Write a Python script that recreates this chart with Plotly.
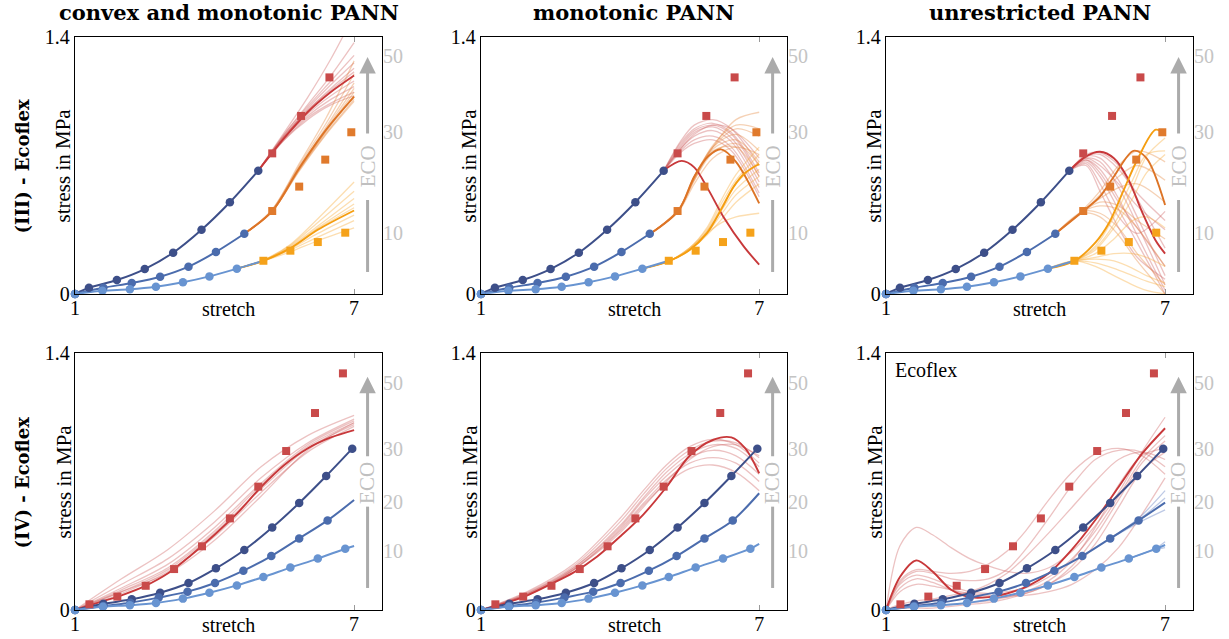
import plotly.graph_objects as go

W, H = 1229, 639

# ---------------- data: top row (III) ----------------
top_x_train50 = [1.0, 1.30, 1.90, 2.50, 3.11, 3.72, 4.33, 4.94]
top_y_train50 = [0.0, 0.034, 0.076, 0.136, 0.225, 0.350, 0.500, 0.672]
top_x_train30 = [1.0, 1.61, 2.22, 2.83, 3.44, 4.03, 4.64]
top_y_train30 = [0.0, 0.034, 0.060, 0.094, 0.149, 0.229, 0.328]
top_x_train10 = [1.0, 1.59, 2.18, 2.74, 3.32, 3.89, 4.48]
top_y_train10 = [0.0, 0.018, 0.026, 0.040, 0.064, 0.096, 0.138]
top_x_test50 = [5.24, 5.86, 6.47]
top_y_test50 = [0.766, 0.970, 1.180]
top_x_test30 = [5.24, 5.82, 6.38, 6.94]
top_y_test30 = [0.452, 0.585, 0.732, 0.881]
top_x_test10 = [5.05, 5.63, 6.22, 6.81]
top_y_test10 = [0.181, 0.236, 0.283, 0.334]

# ---------------- data: bottom row (IV) ----------------
bot_x_test50 = [1.31, 1.91, 2.52, 3.13, 3.73, 4.33, 4.94, 5.54, 6.16, 6.76]
bot_y_test50 = [0.031, 0.073, 0.132, 0.223, 0.347, 0.499, 0.672, 0.866, 1.073, 1.289]
bot_x_train30 = [1.0, 1.61, 2.22, 2.83, 3.44, 4.03, 4.64, 5.24, 5.82, 6.40, 6.96]
bot_y_train30 = [0.0, 0.034, 0.058, 0.094, 0.147, 0.227, 0.327, 0.449, 0.583, 0.730, 0.879]
bot_x_train20 = [1.0, 1.61, 2.19, 2.80, 3.42, 4.01, 4.62, 5.22, 5.82, 6.43]
bot_y_train20 = [0.0, 0.022, 0.040, 0.068, 0.100, 0.147, 0.214, 0.294, 0.390, 0.488]
bot_x_train10 = [1.0, 1.60, 2.18, 2.74, 3.32, 3.89, 4.48, 5.05, 5.63, 6.22, 6.81]
bot_y_train10 = [0.0, 0.018, 0.026, 0.038, 0.062, 0.094, 0.134, 0.180, 0.231, 0.280, 0.334]

# ECO secondary tick labels
eco_top_vals = [0.332, 0.882, 1.296]
eco_top_text = ["10", "30", "50"]
eco_bot_vals = [0.321, 0.588, 0.877, 1.237]
eco_bot_text = ["10", "20", "30", "50"]

# ---------------- model predictions ----------------
# panel 1: convex and monotonic, III
p1_red_x = [4.94, 5.5, 6.0, 6.5, 7.0]
p1_red_bold = [0.672, 0.85, 0.99, 1.10, 1.19]
p1_red_faint = [
    [0.672, 0.88, 1.07, 1.28, 1.52],
    [0.672, 0.87, 1.03, 1.19, 1.37],
    [0.672, 0.87, 1.02, 1.16, 1.30],
    [0.672, 0.86, 1.01, 1.14, 1.26],
    [0.672, 0.86, 1.00, 1.12, 1.23],
    [0.672, 0.86, 1.00, 1.11, 1.21],
    [0.672, 0.85, 0.98, 1.08, 1.16],
    [0.672, 0.85, 0.97, 1.06, 1.13],
    [0.672, 0.84, 0.96, 1.04, 1.10],
    [0.672, 0.84, 0.95, 1.03, 1.08],
]
p1_org_x = [4.64, 5.24, 5.82, 6.4, 7.0]
p1_org_bold = [0.328, 0.452, 0.685, 0.895, 1.075]
p1_org_faint = [
    [0.328, 0.46, 0.71, 0.96, 1.27],
    [0.328, 0.46, 0.70, 0.93, 1.20],
    [0.328, 0.455, 0.69, 0.91, 1.15],
    [0.328, 0.455, 0.69, 0.90, 1.12],
    [0.328, 0.45, 0.68, 0.89, 1.10],
    [0.328, 0.45, 0.68, 0.885, 1.08],
    [0.328, 0.45, 0.675, 0.875, 1.06],
    [0.328, 0.45, 0.67, 0.87, 1.05],
]
p1_yel_x = [4.48, 5.05, 5.63, 6.22, 7.0]
p1_yel_bold = [0.138, 0.181, 0.25, 0.35, 0.455]
p1_yel_faint = [
    [0.138, 0.185, 0.27, 0.41, 0.61],
    [0.138, 0.184, 0.265, 0.39, 0.56],
    [0.138, 0.183, 0.26, 0.37, 0.52],
    [0.138, 0.182, 0.255, 0.36, 0.49],
    [0.138, 0.182, 0.25, 0.355, 0.47],
    [0.138, 0.181, 0.245, 0.33, 0.43],
    [0.138, 0.181, 0.24, 0.31, 0.40],
    [0.138, 0.180, 0.23, 0.29, 0.36],
]

# panel 2: monotonic, III
p2_red_x = [4.95, 5.33, 5.6, 5.9, 6.23, 6.67, 7.0]
p2_red_bold = [0.675, 0.725, 0.69, 0.57, 0.42, 0.258, 0.16]
p2_red_fx = [4.95, 5.3, 5.6, 6.0, 6.4, 7.0]
p2_red_faint = [
    [0.675, 0.83, 0.92, 0.95, 0.90, 0.70],
    [0.675, 0.82, 0.90, 0.93, 0.88, 0.66],
    [0.675, 0.81, 0.89, 0.92, 0.87, 0.64],
    [0.675, 0.80, 0.88, 0.91, 0.85, 0.61],
    [0.675, 0.79, 0.86, 0.89, 0.83, 0.58],
    [0.675, 0.78, 0.84, 0.86, 0.80, 0.55],
    [0.675, 0.77, 0.82, 0.84, 0.78, 0.53],
    [0.675, 0.79, 0.87, 0.92, 0.90, 0.74],
]
p2_org_x = [4.65, 5.26, 5.6, 5.9, 6.18, 6.5, 7.0]
p2_org_bold = [0.328, 0.454, 0.64, 0.75, 0.788, 0.72, 0.494]
p2_org_fx = [4.65, 5.26, 5.6, 6.0, 6.5, 7.0]
p2_org_faint = [
    [0.328, 0.46, 0.62, 0.80, 0.95, 0.99],
    [0.328, 0.46, 0.63, 0.81, 0.92, 0.90],
    [0.328, 0.46, 0.63, 0.80, 0.90, 0.86],
    [0.328, 0.46, 0.64, 0.80, 0.87, 0.78],
    [0.328, 0.455, 0.64, 0.79, 0.84, 0.72],
    [0.328, 0.455, 0.62, 0.77, 0.82, 0.70],
    [0.328, 0.455, 0.63, 0.78, 0.80, 0.64],
    [0.328, 0.45, 0.60, 0.74, 0.80, 0.76],
]
p2_yel_x = [4.48, 5.07, 5.5, 5.87, 6.2, 6.45, 6.7, 7.0]
p2_yel_bold = [0.138, 0.181, 0.24, 0.33, 0.47, 0.585, 0.66, 0.708]
p2_yel_fx = [4.48, 5.07, 5.5, 5.87, 6.2, 6.5, 7.0]
p2_yel_faint = [
    [0.138, 0.181, 0.25, 0.36, 0.52, 0.65, 0.80],
    [0.138, 0.181, 0.25, 0.35, 0.50, 0.62, 0.76],
    [0.138, 0.181, 0.24, 0.34, 0.48, 0.60, 0.72],
    [0.138, 0.181, 0.245, 0.34, 0.46, 0.57, 0.68],
    [0.138, 0.181, 0.24, 0.33, 0.44, 0.54, 0.64],
    [0.138, 0.181, 0.24, 0.32, 0.41, 0.50, 0.60],
    [0.138, 0.181, 0.25, 0.33, 0.39, 0.42, 0.44],
]

# panel 3: unrestricted, III
p3_red_x = [4.94, 5.3, 5.6, 5.9, 6.2, 6.5, 6.8, 7.0]
p3_red_bold = [0.672, 0.75, 0.775, 0.74, 0.63, 0.45, 0.29, 0.22]
p3_red_fx = [4.94, 5.3, 5.6, 6.0, 6.4, 7.0]
p3_red_faint = [
    [0.672, 0.76, 0.77, 0.70, 0.52, 0.25],
    [0.672, 0.75, 0.74, 0.62, 0.42, 0.10],
    [0.672, 0.74, 0.72, 0.58, 0.38, 0.05],
    [0.672, 0.73, 0.68, 0.52, 0.32, 0.02],
    [0.672, 0.74, 0.70, 0.60, 0.48, 0.35],
    [0.672, 0.72, 0.64, 0.46, 0.28, 0.0],
    [0.672, 0.71, 0.60, 0.42, 0.33, 0.45],
    [0.672, 0.75, 0.76, 0.68, 0.55, 0.40],
    [0.672, 0.73, 0.66, 0.50, 0.36, 0.15],
    [0.672, 0.70, 0.56, 0.36, 0.20, 0.08],
]
p3_org_x = [4.64, 5.24, 5.6, 5.9, 6.32, 6.6, 7.0]
p3_org_bold = [0.328, 0.452, 0.53, 0.64, 0.78, 0.74, 0.485]
p3_org_fx = [4.64, 5.24, 5.6, 6.0, 6.4, 7.0]
p3_org_faint = [
    [0.328, 0.45, 0.50, 0.48, 0.40, 0.30],
    [0.328, 0.45, 0.44, 0.36, 0.22, 0.05],
    [0.328, 0.46, 0.56, 0.70, 0.78, 0.72],
    [0.328, 0.45, 0.48, 0.46, 0.36, 0.15],
    [0.328, 0.45, 0.52, 0.58, 0.60, 0.50],
    [0.328, 0.44, 0.42, 0.32, 0.18, 0.0],
    [0.328, 0.45, 0.54, 0.64, 0.70, 0.62],
]
p3_yel_x = [4.48, 5.05, 5.5, 5.8, 6.1, 6.4, 6.8, 7.0]
p3_yel_bold = [0.138, 0.18, 0.28, 0.39, 0.56, 0.73, 0.895, 0.865]
p3_yel_fx = [4.48, 5.05, 5.5, 5.9, 6.3, 6.6, 7.0]
p3_yel_faint = [
    [0.138, 0.18, 0.15, 0.10, 0.05, 0.02, 0.0],
    [0.138, 0.18, 0.17, 0.14, 0.10, 0.07, 0.04],
    [0.138, 0.18, 0.20, 0.22, 0.22, 0.20, 0.15],
    [0.138, 0.18, 0.25, 0.38, 0.58, 0.75, 0.85],
    [0.138, 0.18, 0.26, 0.42, 0.62, 0.76, 0.78],
    [0.138, 0.18, 0.22, 0.30, 0.40, 0.42, 0.36],
    [0.138, 0.18, 0.24, 0.36, 0.52, 0.66, 0.76],
    [0.138, 0.18, 0.19, 0.18, 0.14, 0.10, 0.06],
]

# panel 4: convex and monotonic, IV
p4_red_x = [1.0, 1.5, 2.0, 2.5, 3.0, 3.5, 4.0, 4.5, 5.0, 5.5, 6.0, 6.5, 7.0]
p4_red_bold = [0.0, 0.04, 0.08, 0.13, 0.20, 0.30, 0.41, 0.53, 0.67, 0.79, 0.88, 0.94, 0.98]
p4_red_fx = [1.0, 2.0, 3.0, 4.0, 5.0, 6.0, 7.0]
p4_red_faint = [
    [0.0, 0.17, 0.33, 0.54, 0.78, 0.95, 1.06],
    [0.0, 0.14, 0.28, 0.48, 0.72, 0.91, 1.04],
    [0.0, 0.12, 0.25, 0.45, 0.69, 0.90, 1.03],
    [0.0, 0.11, 0.23, 0.43, 0.68, 0.89, 1.02],
    [0.0, 0.10, 0.22, 0.42, 0.66, 0.88, 1.01],
    [0.0, 0.09, 0.21, 0.40, 0.64, 0.86, 1.00],
    [0.0, 0.10, 0.20, 0.38, 0.62, 0.87, 1.02],
]
p4_blue_end = [0.599, 0.349]

# panel 5: monotonic, IV
p5_red_x = [1.0, 1.5, 2.0, 2.5, 3.0, 3.5, 4.0, 4.5, 5.0, 5.5, 6.0, 6.4, 6.7, 7.0]
p5_red_bold = [0.0, 0.035, 0.08, 0.14, 0.205, 0.29, 0.40, 0.52, 0.67, 0.84, 0.926, 0.94, 0.88, 0.745]
p5_red_fx = [1.0, 2.0, 3.0, 4.0, 4.5, 5.0, 5.5, 6.0, 6.5, 7.0]
p5_red_faint = [
    [0.0, 0.10, 0.25, 0.50, 0.65, 0.79, 0.89, 0.93, 0.90, 0.80],
    [0.0, 0.095, 0.24, 0.48, 0.63, 0.77, 0.87, 0.92, 0.91, 0.83],
    [0.0, 0.09, 0.23, 0.46, 0.61, 0.75, 0.85, 0.90, 0.88, 0.78],
    [0.0, 0.09, 0.23, 0.45, 0.60, 0.73, 0.83, 0.87, 0.84, 0.74],
    [0.0, 0.085, 0.22, 0.44, 0.58, 0.71, 0.80, 0.83, 0.80, 0.70],
    [0.0, 0.08, 0.22, 0.43, 0.57, 0.69, 0.77, 0.79, 0.75, 0.65],
    [0.0, 0.085, 0.22, 0.42, 0.56, 0.70, 0.82, 0.89, 0.90, 0.84],
]
p5_blue_end = [0.636, 0.360]

# panel 6: unrestricted, IV
p6_red_x = [1.0, 1.3, 1.65, 2.0, 2.4, 2.8, 3.2, 3.6, 4.0, 4.5, 5.0, 5.5, 6.0, 6.5, 7.0]
p6_red_bold = [0.0, 0.18, 0.27, 0.21, 0.11, 0.07, 0.07, 0.09, 0.125, 0.20, 0.33, 0.49, 0.67, 0.85, 0.99]
p6_red_faint = [
    [0.0, 0.35, 0.45, 0.41, 0.34, 0.28, 0.24, 0.21, 0.20, 0.23, 0.32, 0.46, 0.64, 0.86, 1.05],
    [0.0, 0.15, 0.21, 0.20, 0.17, 0.16, 0.17, 0.22, 0.33, 0.50, 0.68, 0.82, 0.87, 0.86, 0.78],
    [0.0, 0.16, 0.22, 0.21, 0.20, 0.21, 0.25, 0.32, 0.43, 0.60, 0.75, 0.85, 0.88, 0.84, 0.74],
    [0.0, 0.14, 0.19, 0.17, 0.13, 0.10, 0.09, 0.10, 0.12, 0.18, 0.28, 0.43, 0.62, 0.82, 0.95],
    [0.0, 0.12, 0.17, 0.15, 0.11, 0.08, 0.07, 0.07, 0.09, 0.14, 0.24, 0.40, 0.60, 0.80, 0.92],
    [0.0, 0.02, 0.03, 0.03, 0.03, 0.04, 0.05, 0.07, 0.10, 0.16, 0.27, 0.45, 0.68, 0.84, 0.88],
    [0.0, 0.01, 0.01, 0.01, 0.02, 0.03, 0.04, 0.06, 0.09, 0.14, 0.22, 0.36, 0.56, 0.76, 0.86],
    [0.0, 0.03, 0.05, 0.06, 0.08, 0.10, 0.14, 0.20, 0.29, 0.42, 0.56, 0.70, 0.82, 0.86, 0.82],
    [0.0, 0.10, 0.14, 0.13, 0.11, 0.09, 0.08, 0.08, 0.08, 0.10, 0.14, 0.22, 0.34, 0.52, 0.72],
]
p6_blue_end = [0.585, 0.354]
p6_mid_fx = [5.82, 6.43, 7.0]
p6_mid_faint = [[0.390, 0.50, 0.65], [0.390, 0.49, 0.61], [0.390, 0.475, 0.545]]
p6_light_fx = [6.22, 6.81, 7.0]
p6_light_faint = [[0.280, 0.338, 0.372], [0.280, 0.330, 0.340]]

# ---------------- styles ----------------
DB, MB, LB = "#3d4f89", "#4b6cad", "#6894d1"
RED, ORG, YEL = "#c94a4a", "#e07a2c", "#f5a21a"
RED_L, ORG_L, YEL_L = "#c8383a", "#dd7426", "#f59e10"
RED_F = "rgba(205,95,95,0.38)"
ORG_F = "rgba(230,135,60,0.38)"
YEL_F = "rgba(248,172,60,0.40)"
BLU_F = "rgba(90,120,190,0.40)"
GRAY = "#ababab"
SERIF = "Liberation Serif"
BOLDF = "DejaVu Serif"

col_px = [(75, 382), (481, 787), (886, 1193)]
row_px = [(37, 294), (353, 610)]

fig = go.Figure()


def axn(i):
    return ("x" if i == 1 else f"x{i}"), ("y" if i == 1 else f"y{i}")


def line(i, x, y, color, width):
    xa, ya = axn(i)
    fig.add_trace(go.Scatter(x=x, y=y, mode="lines", xaxis=xa, yaxis=ya,
                             line=dict(color=color, width=width, shape="spline", smoothing=0.9),
                             hoverinfo="skip", showlegend=False))


def marks(i, x, y, color, symbol):
    xa, ya = axn(i)
    fig.add_trace(go.Scatter(x=x, y=y, mode="markers", xaxis=xa, yaxis=ya, cliponaxis=False,
                             marker=dict(color=color, size=8.5 if symbol == "circle" else 8,
                                         symbol=symbol, line=dict(width=0)),
                             hoverinfo="skip", showlegend=False))


top_sets = [
    (1, p1_red_x, p1_red_bold, p1_red_x, p1_red_faint, p1_org_x, p1_org_bold, p1_org_x, p1_org_faint,
     p1_yel_x, p1_yel_bold, p1_yel_x, p1_yel_faint),
    (2, p2_red_x, p2_red_bold, p2_red_fx, p2_red_faint, p2_org_x, p2_org_bold, p2_org_fx, p2_org_faint,
     p2_yel_x, p2_yel_bold, p2_yel_fx, p2_yel_faint),
    (3, p3_red_x, p3_red_bold, p3_red_fx, p3_red_faint, p3_org_x, p3_org_bold, p3_org_fx, p3_org_faint,
     p3_yel_x, p3_yel_bold, p3_yel_fx, p3_yel_faint),
]
for (i, rx, rb, rfx, rf, ox, ob, ofx, of, yx, yb, yfx, yf) in top_sets:
    for c in rf:
        line(i, rfx, c, RED_F, 1.3)
    for c in of:
        line(i, ofx, c, ORG_F, 1.3)
    for c in yf:
        line(i, yfx, c, YEL_F, 1.3)
    line(i, rx, rb, RED_L, 1.9)
    line(i, ox, ob, ORG_L, 1.9)
    line(i, yx, yb, YEL_L, 1.9)
    line(i, top_x_train50, top_y_train50, DB, 2.0)
    line(i, top_x_train30, top_y_train30, MB, 2.0)
    line(i, top_x_train10 + top_x_test10[:1], top_y_train10 + top_y_test10[:1], LB, 2.0)
    marks(i, top_x_train50, top_y_train50, DB, "circle")
    marks(i, top_x_train30, top_y_train30, MB, "circle")
    marks(i, top_x_train10, top_y_train10, LB, "circle")
    marks(i, top_x_test50, top_y_test50, RED, "square")
    marks(i, top_x_test30, top_y_test30, ORG, "square")
    marks(i, top_x_test10, top_y_test10, YEL, "square")

bot_sets = [
    (4, p4_red_x, p4_red_bold, p4_red_fx, p4_red_faint, p4_blue_end),
    (5, p5_red_x, p5_red_bold, p5_red_fx, p5_red_faint, p5_blue_end),
    (6, p6_red_x, p6_red_bold, p6_red_x, p6_red_faint, p6_blue_end),
]
for (i, rx, rb, rfx, rf, be) in bot_sets:
    for c in rf:
        line(i, rfx, c, RED_F, 1.3)
    if i == 6:
        for c in p6_mid_faint:
            line(i, p6_mid_fx, c, BLU_F, 1.3)
        for c in p6_light_faint:
            line(i, p6_light_fx, c, BLU_F, 1.3)
    line(i, rx, rb, RED_L, 1.9)
    line(i, bot_x_train30, bot_y_train30, DB, 2.0)
    line(i, bot_x_train20 + [7.0], bot_y_train20 + [be[0]], MB, 2.0)
    line(i, bot_x_train10 + [7.0], bot_y_train10 + [be[1]], LB, 2.0)
    marks(i, bot_x_train30, bot_y_train30, DB, "circle")
    marks(i, bot_x_train20, bot_y_train20, MB, "circle")
    marks(i, bot_x_train10, bot_y_train10, LB, "circle")
    marks(i, bot_x_test50, bot_y_test50, RED, "square")

# ---------------- axes ----------------
tickfont = dict(family=SERIF, size=20, color="black")
layout_axes = {}
annotations = []
shapes = []
for r in range(2):
    for c in range(3):
        i = r * 3 + c + 1
        l, rr = col_px[c]
        t, b = row_px[r]
        xd = [l / W, rr / W]
        yd = [1 - b / H, 1 - t / H]
        xa, ya = axn(i)
        xk = "xaxis" if i == 1 else f"xaxis{i}"
        yk = "yaxis" if i == 1 else f"yaxis{i}"
        layout_axes[xk] = dict(domain=xd, range=[1, 7.6], anchor=ya, tickvals=[1, 7], ticktext=["1", "7"],
                               showline=True, mirror="ticks", linecolor="black", linewidth=1.3,
                               ticks="inside", ticklen=5, tickcolor="#9a9a9a", tickwidth=1.3,
                               ticklabelstandoff=-4,
                               showgrid=False, zeroline=False, tickfont=tickfont, fixedrange=True,
                               automargin=False)
        layout_axes[yk] = dict(domain=yd, range=[0, 1.4], anchor=xa, tickvals=[0, 1.4], ticktext=["0", "1.4"],
                               showline=True, mirror=True, linecolor="black", linewidth=1.3, ticks="",
                               showgrid=False, zeroline=False, tickfont=tickfont, fixedrange=True,
                               automargin=False)
        rk = f"yaxis{i + 6}"
        layout_axes[rk] = dict(overlaying=ya, side="right", anchor=xa, range=[0, 1.4],
                               tickvals=eco_top_vals if r == 0 else eco_bot_vals,
                               ticktext=eco_top_text if r == 0 else eco_bot_text,
                               tickfont=dict(family=SERIF, size=20, color="#c4c4c4"),
                               showline=False, showgrid=False, zeroline=False, ticks="", fixedrange=True,
                               automargin=False)
        fig.add_trace(go.Scatter(x=[], y=[], xaxis=xa, yaxis=f"y{i + 6}", showlegend=False, hoverinfo="skip"))

        annotations.append(dict(text="stretch", xref=f"{xa} domain", yref=f"{ya} domain", x=0.5, y=0,
                                xanchor="center", yanchor="top", yshift=-2, showarrow=False,
                                font=dict(family=SERIF, size=20, color="black")))
        annotations.append(dict(text="stress in MPa", xref=f"{xa} domain", yref=f"{ya} domain", x=0, y=0.5,
                                xanchor="center", yanchor="middle", xshift=-12, textangle=-90, showarrow=False,
                                font=dict(family=SERIF, size=21, color="black")))
        if r == 0:
            lo0, lo1, ecoy, tip, ay = 0.12, 0.512, 0.693, 1.291, 78
        else:
            lo0, lo1, ecoy, tip, ay = 0.12, 0.563, 0.69, 1.271, 81
        shapes.append(dict(type="line", xref=f"{xa} domain", yref=ya, x0=0.953, x1=0.953, y0=lo0, y1=lo1,
                           line=dict(color=GRAY, width=3)))
        annotations.append(dict(text="", xref=f"{xa} domain", yref=ya, x=0.953, y=tip, ax=0, ay=ay,
                                showarrow=True, arrowhead=2, arrowsize=1.1, arrowwidth=3, arrowcolor=GRAY,
                                standoff=0, startstandoff=0))
        annotations.append(dict(text="ECO", xref=f"{xa} domain", yref=ya, x=0.953, y=ecoy, textangle=-90,
                                showarrow=False, xanchor="center", yanchor="middle",
                                font=dict(family=SERIF, size=21, color="#c0c0c0")))

col_titles = ["convex and monotonic PANN", "monotonic PANN", "unrestricted PANN"]
for c, ttl in enumerate(col_titles):
    l, rr = col_px[c]
    annotations.append(dict(text=f"<b>{ttl}</b>", xref="paper", yref="paper", x=(l + rr) / 2 / W,
                            y=1 - 13 / H, xanchor="center", yanchor="middle", showarrow=False,
                            font=dict(family=BOLDF, size=21, color="black")))
row_titles = ["(III) - Ecoflex", "(IV) - Ecoflex"]
for r, ttl in enumerate(row_titles):
    t, b = row_px[r]
    annotations.append(dict(text=f"<b>{ttl}</b>", xref="paper", yref="paper", x=22 / W,
                            y=1 - ((t + b) / 2 + 1) / H, xanchor="center", yanchor="middle", textangle=-90,
                            showarrow=False, font=dict(family=BOLDF, size=18, color="black")))
annotations.append(dict(text="Ecoflex", xref="x6 domain", yref="y6 domain", x=0.022, y=0.985,
                        xanchor="left", yanchor="top", showarrow=False,
                        font=dict(family=SERIF, size=20, color="black")))

fig.update_layout(template="none", width=W, height=H, margin=dict(l=0, r=0, t=0, b=0, pad=0),
                  autosize=False, plot_bgcolor="white", paper_bgcolor="white", showlegend=False,
                  annotations=annotations, shapes=shapes, **layout_axes)

fig.write_html("out.html", config={"displayModeBar": False},
               post_script="document.body.style.margin='0';")
